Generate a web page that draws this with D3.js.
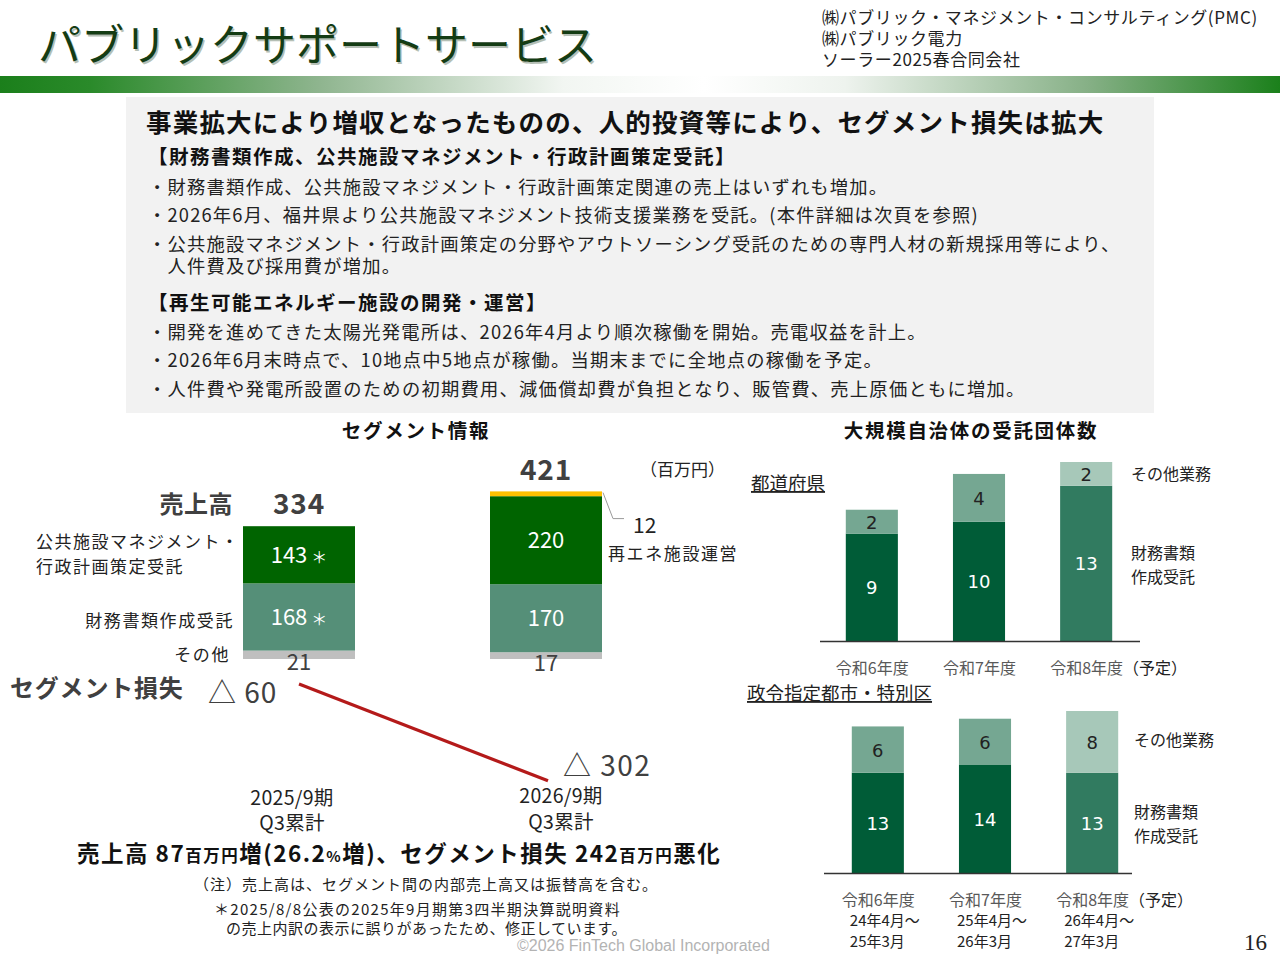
<!DOCTYPE html>
<html><head><meta charset="utf-8">
<script src="https://cdn.jsdelivr.net/npm/d3@7"></script>
<style>
html,body{margin:0;padding:0;background:#fff;}
svg{display:block;font-family:"Noto Sans CJK JP","Noto Sans",sans-serif;}
</style></head>
<body><svg id="c" width="1280" height="960"></svg>
<script>
// ---------- data ----------
const companies = ["㈱パブリック・マネジメント・コンサルティング(PMC)", "㈱パブリック電力", "ソーラー2025春合同会社"];
const headline = "事業拡大により増収となったものの、人的投資等により、セグメント損失は拡大";
const sec1Title = "【財務書類作成、公共施設マネジメント・行政計画策定受託】";
const sec1Bullets = [
  "・財務書類作成、公共施設マネジメント・行政計画策定関連の売上はいずれも増加。",
  "・2026年6月、福井県より公共施設マネジメント技術支援業務を受託。(本件詳細は次頁を参照)",
  "・公共施設マネジメント・行政計画策定の分野やアウトソーシング受託のための専門人材の新規採用等により、",
  "　人件費及び採用費が増加。"
];
const sec2Title = "【再生可能エネルギー施設の開発・運営】";
const sec2Bullets = [
  "・開発を進めてきた太陽光発電所は、2026年4月より順次稼働を開始。売電収益を計上。",
  "・2026年6月末時点で、10地点中5地点が稼働。当期末までに全地点の稼働を予定。",
  "・人件費や発電所設置のための初期費用、減価償却費が負担となり、販管費、売上原価ともに増加。"
];

// segment info (百万円)
const segPeriods = ["2025/9期", "2026/9期"];
const segPeriodSub = ["Q3累計", "Q3累計"];
const segOther = [21, 17];
const segFinancial = [168, 170];
const segPublic = [143, 220];
const segRenew = [0, 12];
const segTotals = [334, 421];
const segLoss = [-60, -302];
const segMarks = ["＊", ""];

// 大規模自治体の受託団体数
const fiscalYears = ["令和6年度", "令和7年度", "令和8年度"];
const fiscalSuffix = ["", "", "（予定）"];
const periodFrom = ["24年4月～", "25年4月～", "26年4月～"];
const periodTo = ["25年3月", "26年3月", "27年3月"];
const prefFinancial = [9, 10, 13];
const prefOther = [2, 4, 2];
const cityFinancial = [13, 14, 13];
const cityOther = [6, 6, 8];

// ---------- drawing ----------
const svg = d3.select("#c");
const JP = '"Noto Sans CJK JP","Noto Sans",sans-serif';
function txt(g, x, y, s, o = {}) {
  return g.append("text").attr("x", x).attr("y", y).text(s)
    .attr("font-size", o.size || 16)
    .attr("font-weight", o.bold ? 700 : 400)
    .attr("fill", o.color || "#222")
    .attr("text-anchor", o.anchor || "start")
    .attr("font-family", o.family || JP)
    .attr("letter-spacing", o.ls != null ? o.ls : null)
    .attr("text-decoration", o.underline ? "underline" : null);
}

// header
const defs = svg.append("defs");
const grad = defs.append("linearGradient").attr("id", "band");
[[0, "#1b7f1b"], [0.07, "#2a8a2a"], [0.25, "#8fb58f"], [0.44, "#f2f6f2"], [0.55, "#ffffff"], [0.66, "#eef3ee"], [0.85, "#86b086"], [1, "#1b801b"]]
  .forEach(([o, c]) => grad.append("stop").attr("offset", o).attr("stop-color", c));
svg.append("rect").attr("x", 0).attr("y", 76).attr("width", 1280).attr("height", 17).attr("fill", "url(#band)");

txt(svg, 39.5, 62.5, "パブリックサポートサービス", { size: 43, color: "#b5bfb5" });
txt(svg, 38, 61, "パブリックサポートサービス", { size: 43, color: "#143c14" });
companies.forEach((c, i) => txt(svg, 822, 24 + i * 21, c, { size: 17, color: "#222", ls: 0.6 }));

// grey box
svg.append("rect").attr("x", 126).attr("y", 97).attr("width", 1028).attr("height", 316).attr("fill", "#f2f2f2");
txt(svg, 146, 132, headline, { size: 25.5, bold: true, color: "#111", ls: 1.2 });
txt(svg, 148, 164, sec1Title, { size: 19.5, bold: true, color: "#111", ls: 1.5 });
const b1y = [194, 222, 251, 273];
sec1Bullets.forEach((b, i) => txt(svg, 148, b1y[i], b, { size: 18.3, color: "#222", ls: 1.2 }));
txt(svg, 148, 310, sec2Title, { size: 19.5, bold: true, color: "#111", ls: 1.5 });
const b2y = [339, 367, 396];
sec2Bullets.forEach((b, i) => txt(svg, 148, b2y[i], b, { size: 18.3, color: "#222", ls: 1.25 }));

txt(svg, 416, 438, "セグメント情報", { size: 19.5, bold: true, anchor: "middle", color: "#111", ls: 1.7 });
txt(svg, 971, 438, "大規模自治体の受託団体数", { size: 19.5, bold: true, anchor: "middle", color: "#111", ls: 1.7 });

// ---------- segment chart ----------
const gL = svg.append("g");
const xL = d3.scalePoint().domain(segPeriods).range([299, 546]);
const yL = d3.scaleLinear().domain([0, 450]).range([659, 479]);
const yLoss = d3.scaleLinear().domain([0, -450]).range([660, 840]);
const barW = 112;
const segKeys = [
  { vals: segOther, color: "#bfbfbf" },
  { vals: segFinancial, color: "#558f78" },
  { vals: segPublic, color: "#006400" },
  { vals: segRenew, color: "#ffc000" }
];
const periodShift = [-7, 15];
segPeriods.forEach((p, i) => {
  let acc = 0;
  segKeys.forEach(k => {
    const v = k.vals[i];
    if (v > 0) {
      gL.append("rect").attr("x", xL(p) - barW / 2).attr("width", barW)
        .attr("y", yL(acc + v)).attr("height", yL(acc) - yL(acc + v)).attr("fill", k.color);
    }
    acc += v;
  });
  const cx = xL(p);
  const yPubMid = (yL(segOther[i] + segFinancial[i]) + yL(segOther[i] + segFinancial[i] + segPublic[i])) / 2;
  const yFinMid = (yL(segOther[i]) + yL(segOther[i] + segFinancial[i])) / 2;
  const t1 = txt(gL, cx, yPubMid + 8, segPublic[i], { size: 22, color: "#fff", anchor: "middle" });
  const t2 = txt(gL, cx, yFinMid + 8, segFinancial[i], { size: 22, color: "#fff", anchor: "middle" });
  if (segMarks[i]) {
    t1.append("tspan").attr("font-size", 16).attr("dx", 4).text(segMarks[i]);
    t2.append("tspan").attr("font-size", 16).attr("dx", 4).text(segMarks[i]);
  }
  txt(gL, cx, yL(0) + 11 + i, segOther[i], { size: 22, color: "#404040", anchor: "middle" });
  txt(gL, cx, yL(segTotals[i]) - 11, segTotals[i], { size: 28, bold: true, color: "#404040", anchor: "middle", ls: 0.8 });
  txt(gL, cx + periodShift[i], 805 - i * 2, segPeriods[i], { size: 19.5, anchor: "middle", ls: 0.3 });
  txt(gL, cx + periodShift[i], 830 - i, segPeriodSub[i], { size: 19.5, anchor: "middle", ls: 0.3 });
});
txt(gL, 233, 513, "売上高", { size: 24, bold: true, color: "#404040", anchor: "end", ls: 0.5 });
txt(gL, 640, 476, "（百万円）", { size: 17, color: "#222" });
txt(gL, 36, 548, "公共施設マネジメント・", { size: 17, ls: 1.5 });
txt(gL, 36, 573, "行政計画策定受託", { size: 17, ls: 1.5 });
txt(gL, 234, 627, "財務書類作成受託", { size: 17, anchor: "end", ls: 1.6 });
txt(gL, 230, 661, "その他", { size: 17, anchor: "end", ls: 1.6 });
// renewable callout
const rTop = yL(segTotals[1]);
const xr = xL(segPeriods[1]) + barW / 2;
gL.append("path").attr("d", `M${xr + 1},${rTop + 2} L${xr + 11},${rTop + 28} L${xr + 22},${rTop + 28}`)
  .attr("fill", "none").attr("stroke", "#9a9a9a").attr("stroke-width", 1);
txt(gL, 633, 533, segRenew[1], { size: 21, color: "#222" });
txt(gL, 608, 560, "再エネ施設運営", { size: 17, ls: 1.6 });
// segment loss
txt(gL, 10, 697, "セグメント損失", { size: 24, bold: true, color: "#404040", ls: 0.8 });
gL.append("line").attr("x1", xL(segPeriods[0])).attr("y1", yLoss(segLoss[0]))
  .attr("x2", xL(segPeriods[1]) + 2).attr("y2", yLoss(segLoss[1]))
  .attr("stroke", "#b41a1a").attr("stroke-width", 3.2);
txt(gL, 208, 703, "△ " + Math.abs(segLoss[0]), { size: 28, color: "#404040", ls: 1 });
txt(gL, 563, 776, "△ " + Math.abs(segLoss[1]), { size: 28, color: "#404040", ls: 1.5 });

// bottom summary
const sum = txt(svg, 77, 862, "", { size: 22, bold: true, color: "#111", ls: 1.5 });
[["売上高 87", 22.5], ["百万円", 16.5], ["増(26.2", 22.5], ["%", 15], ["増)、セグメント損失 242", 22.5], ["百万円", 16.5], ["悪化", 22.5]]
  .forEach(([s, f]) => sum.append("tspan").attr("font-size", f).text(s));
txt(svg, 426, 890, "（注）売上高は、セグメント間の内部売上高又は振替高を含む。", { size: 15, anchor: "middle", ls: 1 });
txt(svg, 214, 915, "＊2025/8/8公表の2025年9月期第3四半期決算説明資料", { size: 15, ls: 1.3 });
txt(svg, 226, 934, "の売上内訳の表示に誤りがあったため、修正しています。", { size: 15, ls: 0.5 });
txt(svg, 517, 951, "©2026 FinTech Global Incorporated", { size: 16, color: "#b3b3b3", family: '"Liberation Sans",sans-serif' });
txt(svg, 1267, 950, "16", { size: 23, anchor: "end", family: '"Liberation Serif",serif', color: "#222" });

// ---------- municipality charts ----------
function stackChart(opt) {
  const g = svg.append("g");
  const x = d3.scaleBand().domain(fiscalYears).range(opt.xr).paddingInner(0.514).paddingOuter(0.25);
  const y = d3.scaleLinear().domain([0, opt.ymax]).range(opt.yr);
  fiscalYears.forEach((fy, i) => {
    const isPlan = i === fiscalYears.length - 1;
    const cFin = isPlan ? "#317b60" : "#005c37";
    const cOth = isPlan ? "#a7c8b9" : "#75a792";
    const f = opt.fin[i], o = opt.oth[i];
    g.append("rect").attr("x", x(fy)).attr("width", x.bandwidth()).attr("y", y(f)).attr("height", y(0) - y(f)).attr("fill", cFin);
    g.append("rect").attr("x", x(fy)).attr("width", x.bandwidth()).attr("y", y(f + o)).attr("height", y(f) - y(f + o)).attr("fill", cOth);
    const cx = x(fy) + x.bandwidth() / 2;
    txt(g, cx, (y(0) + y(f)) / 2 + 7, f, { size: 18, color: "#fff", anchor: "middle", family: '"DejaVu Sans",sans-serif' });
    txt(g, cx, (y(f) + y(f + o)) / 2 + 7, o, { size: 18, color: "#222", anchor: "middle", family: '"DejaVu Sans",sans-serif' });
    const lx = cx - 36;
    const t = txt(g, lx, y(0) + 33, fy, { size: 16, color: "#595959" });
    if (fiscalSuffix[i]) t.append("tspan").text(fiscalSuffix[i]).attr("fill", "#222");
    if (opt.periods) {
      txt(g, lx + 8, y(0) + 53, periodFrom[i], { size: 15, color: "#222" });
      txt(g, lx + 8, y(0) + 74, periodTo[i], { size: 15, color: "#222" });
    }
  });
  g.append("line").attr("x1", opt.axis[0]).attr("x2", opt.axis[1]).attr("y1", y(0) + 0.5).attr("y2", y(0) + 0.5)
    .attr("stroke", "#333").attr("stroke-width", 1.5);
  txt(g, opt.title[0], opt.title[1], opt.titleText, { size: 18.5, underline: true, color: "#222" });
  txt(g, opt.legX, opt.legY[0], "その他業務", { size: 16 });
  txt(g, opt.legX, opt.legY[1], "財務書類", { size: 16 });
  txt(g, opt.legX, opt.legY[1] + 24, "作成受託", { size: 16 });
}
stackChart({
  xr: [819, 1139], yr: [641, 462], ymax: 15, fin: prefFinancial, oth: prefOther,
  axis: [820, 1140], title: [751, 490], titleText: "都道府県", legX: 1131, legY: [480, 559]
});
stackChart({
  xr: [825, 1145], yr: [873, 711], ymax: 21, fin: cityFinancial, oth: cityOther, periods: true,
  axis: [824, 1132], title: [747, 700], titleText: "政令指定都市・特別区", legX: 1134, legY: [746, 818]
});
</script>
</body></html>
